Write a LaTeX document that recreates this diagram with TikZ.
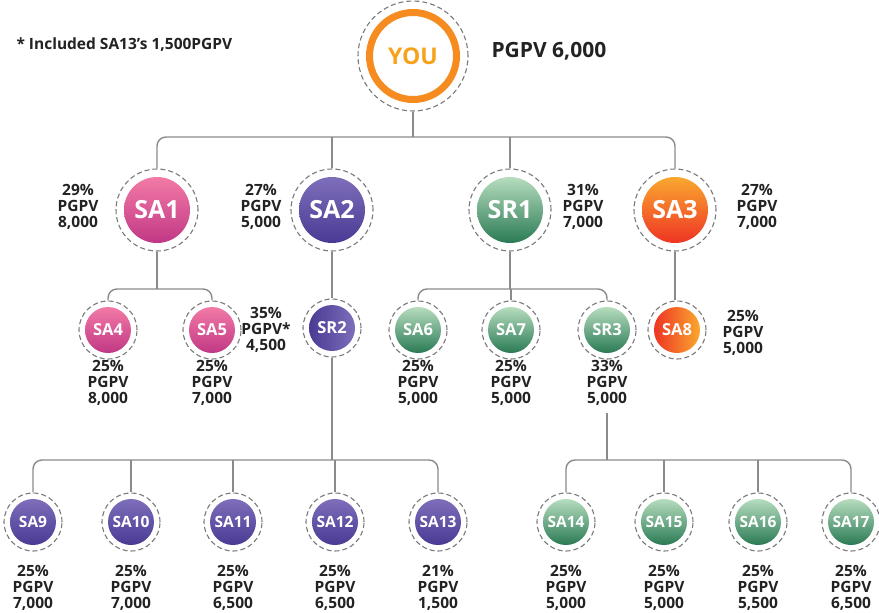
\documentclass[tikz,border=0pt]{standalone}
\usepackage{fontspec}
\setmainfont{Open Sans}
\definecolor{txt}{HTML}{222222}
\definecolor{pinkT}{HTML}{F27AA6}
\definecolor{pinkB}{HTML}{C13885}
\definecolor{purT}{HTML}{7E6EBA}
\definecolor{purB}{HTML}{4A3A94}
\definecolor{grnT}{HTML}{B6DDBE}
\definecolor{grnB}{HTML}{2B7A55}
\definecolor{orT}{HTML}{FAA82F}
\definecolor{orB}{HTML}{EE3424}
\definecolor{youC}{HTML}{F68B1F}
\definecolor{youT}{HTML}{F7A21B}
\definecolor{linec}{HTML}{8A8A8A}
\definecolor{dashc}{HTML}{7A7A7A}
\begin{document}
\begin{tikzpicture}[x=1pt,y=-1pt,
  ring/.style={circle, draw=dashc, line width=1.1pt, dash pattern=on 5pt off 3pt, inner sep=0pt},
  ringA/.style={ring, minimum size=82pt},
  ringB/.style={ring, minimum size=58pt},
  disc/.style={circle, inner sep=0pt, text=white, font=\bfseries},
  discA/.style={disc, minimum size=66pt, font=\bfseries\fontsize{25}{25}\selectfont},
  discB/.style={disc, minimum size=46pt, font=\bfseries\fontsize{16.5}{16.5}\selectfont},
  discC/.style={disc, minimum size=46pt, font=\bfseries\fontsize{15.5}{15.5}\selectfont},
  pink/.style={shade, top color=pinkT, bottom color=pinkB},
  pur/.style={shade, top color=purT, bottom color=purB},
  grn/.style={shade, top color=grnT, bottom color=grnB},
  org/.style={shade, top color=orT, bottom color=orB},
  lab/.style={align=center, text=txt, inner sep=1pt, font=\bfseries\fontsize{15.5}{15.8}\selectfont},
  conn/.style={draw=linec, line width=1.4pt},
  bar/.style={conn, rounded corners=9pt}
]
\useasboundingbox (0,0) rectangle (879,613);

% header texts
\node[anchor=west, text=txt, font=\bfseries\fontsize{15.5}{16}\selectfont] (note) at (13,45) {* Included SA13’s 1,500PGPV};
\node[anchor=west, text=txt, font=\bfseries\fontsize{21}{21}\selectfont] (youv) at (488,51) {PGPV 6,000};

% YOU
\node[ring, minimum size=110pt] (YOUo) at (413,56) {};
\node[circle, draw=youC, line width=7pt, minimum size=87pt, fill=white, text=youT, inner sep=0pt, font=\bfseries\fontsize{23}{23}\selectfont] (YOU) at (413,56) {YOU};

% level 1
\node[ringA] (SA1o) at (157,210) {};
\node[discA, pink] (SA1) at (157,210) {SA1};
\node[ringA] (SA2o) at (332,210) {};
\node[discA, pur] (SA2) at (332,210) {SA2};
\node[ringA] (SR1o) at (510,210) {};
\node[discA, grn] (SR1) at (510,210) {SR1};
\node[ringA] (SA3o) at (675,210) {};
\node[discA, org] (SA3) at (675,210) {SA3};

\node[lab] (lSA1) at (78,207) {29\%\\PGPV\\8,000};
\node[lab] (lSA2) at (261,207) {27\%\\PGPV\\5,000};
\node[lab] (lSR1) at (583,207) {31\%\\PGPV\\7,000};
\node[lab] (lSA3) at (757,207) {27\%\\PGPV\\7,000};

% level 2
\node[ringB] (SA4o) at (108,330) {};
\node[discB, pink] (SA4) at (108,330) {SA4};
\node[ringB] (SA5o) at (212,330) {};
\node[discB, pink] (SA5) at (212,330) {SA5};
\node[ringB] (SR2o) at (332,328) {};
\node[discB, shade, left color=purB, right color=purT] (SR2) at (332,328) {SR2};
\node[ringB] (SA6o) at (418,330) {};
\node[discB, grn] (SA6) at (418,330) {SA6};
\node[ringB] (SA7o) at (511,330) {};
\node[discB, grn] (SA7) at (511,330) {SA7};
\node[ringB] (SR3o) at (607,330) {};
\node[discB, grn] (SR3) at (607,330) {SR3};
\node[ringB] (SA8o) at (677,330) {};
\node[discB, shade, left color=orB, right color=orT] (SA8) at (677,330) {SA8};

\node[lab] (lSA4) at (108,383) {25\%\\PGPV\\8,000};
\node[lab] (lSA5) at (212,383) {25\%\\PGPV\\7,000};
\node[lab] (lSR2) at (266,330) {35\%\\PGPV*\\4,500};
\node[lab] (lSA6) at (418,383) {25\%\\PGPV\\5,000};
\node[lab] (lSA7) at (511,383) {25\%\\PGPV\\5,000};
\node[lab] (lSR3) at (607,383) {33\%\\PGPV\\5,000};
\node[lab] (lSA8) at (743,333) {25\%\\PGPV\\5,000};

% level 3
\node[ringB] (SA9o) at (33,522) {};
\node[discC, pur] (SA9) at (33,522) {SA9};
\node[ringB] (SA10o) at (131,522) {};
\node[discC, pur] (SA10) at (131,522) {SA10};
\node[ringB] (SA11o) at (233,522) {};
\node[discC, pur] (SA11) at (233,522) {SA11};
\node[ringB] (SA12o) at (335,522) {};
\node[discC, pur] (SA12) at (335,522) {SA12};
\node[ringB] (SA13o) at (438,522) {};
\node[discC, pur] (SA13) at (438,522) {SA13};
\node[ringB] (SA14o) at (566,522) {};
\node[discC, grn] (SA14) at (566,522) {SA14};
\node[ringB] (SA15o) at (664,522) {};
\node[discC, grn] (SA15) at (664,522) {SA15};
\node[ringB] (SA16o) at (758,522) {};
\node[discC, grn] (SA16) at (758,522) {SA16};
\node[ringB] (SA17o) at (851,522) {};
\node[discC, grn] (SA17) at (851,522) {SA17};

\node[lab] (lSA9) at (33,588) {25\%\\PGPV\\7,000};
\node[lab] (lSA10) at (131,588) {25\%\\PGPV\\7,000};
\node[lab] (lSA11) at (233,588) {25\%\\PGPV\\6,500};
\node[lab] (lSA12) at (335,588) {25\%\\PGPV\\6,500};
\node[lab] (lSA13) at (438,588) {21\%\\PGPV\\1,500};
\node[lab] (lSA14) at (566,588) {25\%\\PGPV\\5,000};
\node[lab] (lSA15) at (664,588) {25\%\\PGPV\\5,000};
\node[lab] (lSA16) at (758,588) {25\%\\PGPV\\5,500};
\node[lab] (lSA17) at (851,588) {25\%\\PGPV\\6,500};

% junction coordinates
\coordinate (b0) at (413,137);
\coordinate (b1) at (157,289);
\coordinate (b2) at (510,289);
\coordinate (b3) at (332,460);
\coordinate (b4) at (607,460);

% connectors level 1
\draw[conn] (YOUo.south) -- (b0);
\draw[bar] (SA1o.north) |- (b0) -| (SA3o.north);
\draw[conn] (SA2o.north) -- (SA2o.north |- b0);
\draw[conn] (SR1o.north) -- (SR1o.north |- b0);

% connectors level 2
\draw[conn] (SA1o.south) -- (b1);
\draw[bar] (SA4o.north) |- (b1) -| (SA5o.north);
\draw[conn] (SA2o.south) -- (SR2o.north);
\draw[conn] (SR1o.south) -- (b2);
\draw[bar] (SA6o.north) |- (b2) -| (SR3o.north);
\draw[conn] (SA7o.north) -- (SA7o.north |- b2);
\draw[conn] (SA3o.south) -- (SA8o.north -| SA3o.south);

% connectors level 3
\draw[conn] (SR2o.south) -- (b3);
\draw[bar] (SA9o.north) |- (b3) -| (SA13o.north);
\draw[conn] (SA10o.north) -- (SA10o.north |- b3);
\draw[conn] (SA11o.north) -- (SA11o.north |- b3);
\draw[conn] (SA12o.north) -- (SA12o.north |- b3);
\draw[conn] ([yshift=-6pt]lSR3.south) -- (b4);
\draw[bar] (SA14o.north) |- (b4) -| (SA17o.north);
\draw[conn] (SA15o.north) -- (SA15o.north |- b4);
\draw[conn] (SA16o.north) -- (SA16o.north |- b4);
\end{tikzpicture}
\end{document}
